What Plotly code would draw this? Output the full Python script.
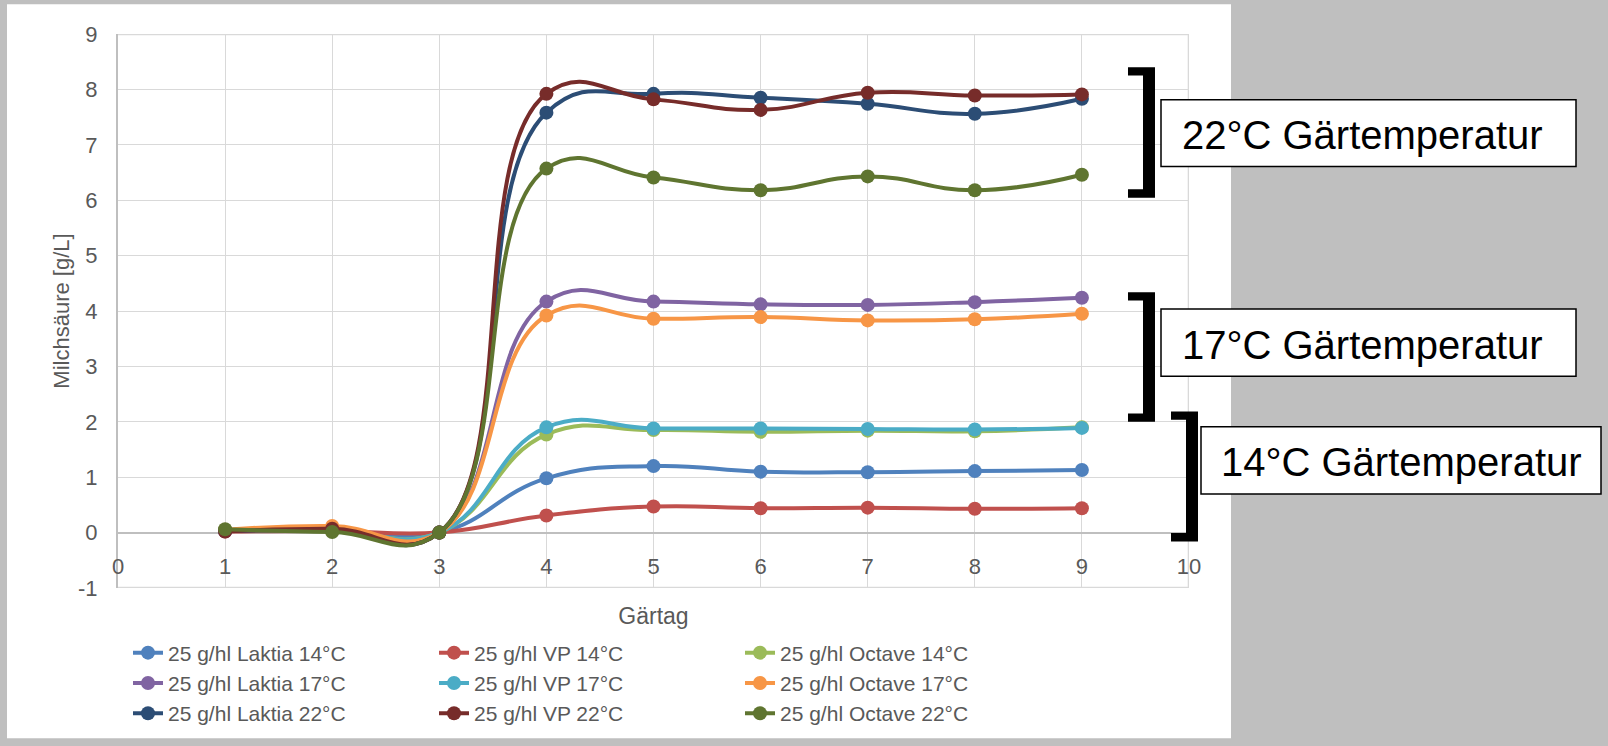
import plotly.graph_objects as go

# Fermentation days (x axis) and lactic acid readings [g/L]
days = [1, 2, 3, 4, 5, 6, 7, 8, 9]

laktia_14 = [0.03, 0.05, 0.0, 0.98, 1.20, 1.10, 1.09, 1.11, 1.13]
vp_14 = [0.02, 0.03, 0.0, 0.31, 0.47, 0.44, 0.45, 0.43, 0.44]
octave_14 = [0.04, 0.04, 0.0, 1.77, 1.85, 1.82, 1.84, 1.83, 1.90]
laktia_17 = [0.03, 0.06, 0.0, 4.17, 4.17, 4.12, 4.11, 4.16, 4.24]
vp_17 = [0.04, 0.05, 0.0, 1.90, 1.88, 1.88, 1.87, 1.86, 1.89]
octave_17 = [0.05, 0.12, 0.0, 3.92, 3.86, 3.89, 3.83, 3.85, 3.95]
laktia_22 = [0.03, 0.04, 0.0, 7.58, 7.92, 7.85, 7.74, 7.56, 7.83]
vp_22 = [0.02, 0.07, 0.0, 7.92, 7.82, 7.63, 7.94, 7.89, 7.91]
octave_22 = [0.06, 0.01, 0.0, 6.57, 6.41, 6.18, 6.43, 6.18, 6.46]

series_names = [
    "25 g/hl Laktia 14°C", "25 g/hl VP 14°C", "25 g/hl Octave 14°C",
    "25 g/hl Laktia 17°C", "25 g/hl VP 17°C", "25 g/hl Octave 17°C",
    "25 g/hl Laktia 22°C", "25 g/hl VP 22°C", "25 g/hl Octave 22°C",
]
series_values = [
    laktia_14, vp_14, octave_14,
    laktia_17, vp_17, octave_17,
    laktia_22, vp_22, octave_22,
]
series_colors = [
    "#4F81BD", "#C0504D", "#9BBB59",
    "#8064A2", "#4BACC6", "#F79646",
    "#2C4D75", "#772C2A", "#5F7530",
]

x_ticks = list(range(0, 11))
y_ticks = list(range(-1, 10))

group_labels = ["22°C Gärtemperatur", "17°C Gärtemperatur", "14°C Gärtemperatur"]

FONT = "Liberation Sans, Arial, sans-serif"
TICK_COLOR = "#595959"
GRID_COLOR = "#D9D9D9"
AXIS_COLOR = "#BFBFBF"

# Canvas and plot-area geometry in pixels
W, H = 1608, 746
ML, MR, MT, MB = 118, 419, 34, 152
PW, PH = W - ML - MR, H - MT - MB


def px(xp):
    return (xp - ML) / PW


def py(yp):
    return (H - MB - yp) / PH


fig = go.Figure()

for name, vals, col in zip(series_names, series_values, series_colors):
    fig.add_trace(go.Scatter(
        x=days, y=vals, name=name, mode="lines+markers",
        line=dict(color=col, width=4, shape="spline", smoothing=1.3),
        marker=dict(color=col, size=14),
    ))

shapes = []
# white chart panel on the grey page
shapes.append(dict(type="rect", xref="paper", yref="paper",
                   x0=px(7), x1=px(1231), y0=py(746), y1=py(4),
                   fillcolor="white", line=dict(width=0), layer="below"))

# grid lines on the outer edges of the value range
x_lo, x_hi = x_ticks[0], x_ticks[-1]
y_lo, y_hi = y_ticks[0], y_ticks[-1]
for yv in (y_lo, y_hi):
    shapes.append(dict(type="line", xref="x", yref="y", x0=x_lo, x1=x_hi, y0=yv, y1=yv,
                       line=dict(color=GRID_COLOR, width=2.6), layer="below"))
shapes.append(dict(type="line", xref="x", yref="y", x0=x_hi, x1=x_hi, y0=y_lo, y1=y_hi,
                   line=dict(color=GRID_COLOR, width=2.6), layer="below"))


def bracket(x_left, x_bar, x_right, y_top, y_bot, arm):
    pts = [(x_left, y_top), (x_right, y_top), (x_right, y_bot), (x_left, y_bot),
           (x_left, y_bot - arm), (x_bar, y_bot - arm), (x_bar, y_top + arm),
           (x_left, y_top + arm)]
    path = "M " + " L ".join(f"{px(a):.5f},{py(b):.5f}" for a, b in pts) + " Z"
    return dict(type="path", xref="paper", yref="paper", path=path,
                fillcolor="black", line=dict(width=0), layer="above")


shapes.append(bracket(1128, 1143, 1155, 67.5, 199.5, 8.5))
shapes.append(bracket(1128, 1143, 1155, 295.0, 426.0, 8.5))
shapes.append(bracket(1171, 1186, 1198, 415.5, 547.0, 8.5))

boxes = [(1161, 1576, 100.5, 168.0), (1161, 1576, 312.0, 380.0), (1201, 1601, 431.0, 499.0)]
for x0, x1, y0, y1 in boxes:
    shapes.append(dict(type="rect", xref="paper", yref="paper",
                       x0=px(x0), x1=px(x1), y0=py(y1), y1=py(y0),
                       fillcolor="white", line=dict(color="black", width=1.5),
                       layer="above"))

annotations = []
text_pos = [(1180, 136), (1180, 348), (1219, 467)]
for label, (tx, ty) in zip(group_labels, text_pos):
    annotations.append(dict(xref="paper", yref="paper", x=px(tx), y=py(ty),
                            xanchor="left", yanchor="middle", showarrow=False,
                            text=label, font=dict(family=FONT, size=40, color="black")))

fig.update_layout(
    width=W, height=H,
    margin=dict(l=ML, r=MR, t=MT, b=MB, pad=0),
    paper_bgcolor="#BFBFBF",
    plot_bgcolor="white",
    font=dict(family=FONT, color=TICK_COLOR),
    shapes=shapes,
    annotations=annotations,
    showlegend=True,
    legend=dict(
        orientation="h", x=px(128), y=py(639), xanchor="left", yanchor="top",
        entrywidth=261, entrywidthmode="pixels",
        font=dict(family=FONT, size=21, color=TICK_COLOR),
        bgcolor="rgba(0,0,0,0)", traceorder="normal",
    ),
    xaxis=dict(
        range=[x_lo, x_hi], tickvals=x_ticks, ticktext=[str(v) for v in x_ticks],
        showgrid=True, gridcolor=GRID_COLOR, gridwidth=1.3,
        zeroline=False, showline=False, ticks="",
        anchor="free", position=0.1,
        tickfont=dict(family=FONT, size=22, color=TICK_COLOR),
        ticklabelstandoff=18,
        title=dict(text="Gärtag", standoff=30,
                   font=dict(family=FONT, size=23, color=TICK_COLOR)),
        fixedrange=True,
    ),
    yaxis=dict(
        range=[y_lo, y_hi], tickvals=y_ticks, ticktext=[str(v) for v in y_ticks],
        showgrid=True, gridcolor=GRID_COLOR, gridwidth=1.3,
        zeroline=True, zerolinecolor=AXIS_COLOR, zerolinewidth=2,
        showline=True, linecolor=AXIS_COLOR, linewidth=2, ticks="",
        tickfont=dict(family=FONT, size=22, color=TICK_COLOR),
        ticklabelstandoff=14,
        title=dict(text="Milchsäure [g/L]", standoff=2,
                   font=dict(family=FONT, size=22, color=TICK_COLOR)),
        fixedrange=True,
    ),
)

fig.write_html("out.html")
